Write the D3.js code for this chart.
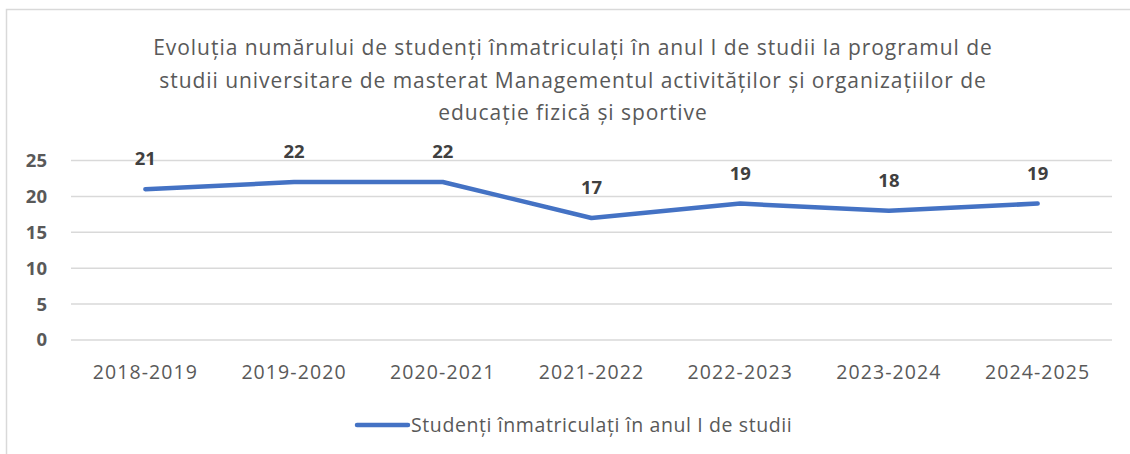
<!DOCTYPE html>
<html>
<head>
<meta charset="utf-8">
<script src="https://cdn.jsdelivr.net/npm/d3@7"></script>
<style>
  body { margin: 0; background: #fff; }
  svg { display: block; font-family: 'Open Sans', sans-serif; }
</style>
</head>
<body>
<div id="chart"></div>
<script>
const years = ['2018-2019', '2019-2020', '2020-2021', '2021-2022', '2022-2023', '2023-2024', '2024-2025'];
const students = [21, 22, 22, 17, 19, 18, 19];
const yTicks = [0, 5, 10, 15, 20, 25];
const titleLines = [
  'Evoluția numărului de studenți înmatriculați în anul I de studii la programul de',
  'studii universitare de masterat Managementul activităților și organizațiilor de',
  'educație fizică și sportive',
];
const seriesName = 'Studenți înmatriculați în anul I de studii';

const W = 1130;
const H = 454;
const plot = { left: 71, right: 1112, top: 160.5, bottom: 340 };

const svg = d3.select('#chart').append('svg')
  .attr('width', W)
  .attr('height', H);

// chart frame
svg.append('rect')
  .attr('x', 6.5).attr('y', 9.5)
  .attr('width', W).attr('height', H)
  .attr('fill', '#fff')
  .attr('stroke', '#d9d9d9')
  .attr('stroke-width', 1.5);

// title
svg.append('g').selectAll('text')
  .data(titleLines)
  .enter().append('text')
  .attr('x', 573)
  .attr('y', (d, i) => 55 + i * 32.5)
  .attr('text-anchor', 'middle')
  .attr('fill', '#595959')
  .style('font-size', '21px')
  .style('letter-spacing', '0.95px')
  .text(d => d);

const x = d3.scalePoint().domain(years).range([plot.left, plot.right]).padding(0.5);
const y = d3.scaleLinear().domain([0, 25]).range([plot.bottom, plot.top]);

// gridlines
svg.append('g').selectAll('line')
  .data(yTicks)
  .enter().append('line')
  .attr('x1', plot.left).attr('x2', plot.right)
  .attr('y1', d => y(d)).attr('y2', d => y(d))
  .attr('stroke', '#d9d9d9')
  .attr('stroke-width', 1.5);

// y labels
svg.append('g').selectAll('text')
  .data(yTicks)
  .enter().append('text')
  .attr('x', 47)
  .attr('y', d => y(d))
  .attr('dy', '0.35em')
  .attr('text-anchor', 'end')
  .attr('fill', '#595959')
  .style('font-size', '18.5px')
  .style('font-weight', 'bold')
  .text(d => d);

// x labels
svg.append('g').selectAll('text')
  .data(years)
  .enter().append('text')
  .attr('x', d => x(d))
  .attr('y', 379)
  .attr('text-anchor', 'middle')
  .attr('fill', '#595959')
  .style('font-size', '19.5px')
  .style('letter-spacing', '1.1px')
  .text(d => d);

// line
const line = d3.line()
  .x((d, i) => x(years[i]))
  .y(d => y(d));

svg.append('path')
  .datum(students)
  .attr('d', line)
  .attr('fill', 'none')
  .attr('stroke', '#4472c4')
  .attr('stroke-width', 4.5)
  .attr('stroke-linecap', 'round')
  .attr('stroke-linejoin', 'round');

// data labels
svg.append('g').selectAll('text')
  .data(students)
  .enter().append('text')
  .attr('x', (d, i) => x(years[i]))
  .attr('y', d => y(d) - 24)
  .attr('text-anchor', 'middle')
  .attr('fill', '#404040')
  .style('font-size', '18.5px')
  .style('font-weight', 'bold')
  .text(d => d);

// legend
const legend = svg.append('g').attr('transform', 'translate(357, 425)');
legend.append('line')
  .attr('x1', 0).attr('x2', 51)
  .attr('stroke', '#4472c4')
  .attr('stroke-width', 4.5)
  .attr('stroke-linecap', 'round');
legend.append('text')
  .attr('x', 54)
  .attr('dy', '0.35em')
  .attr('fill', '#595959')
  .style('font-size', '19.5px')
  .style('letter-spacing', '0.6px')
  .text(seriesName);
</script>
</body>
</html>
